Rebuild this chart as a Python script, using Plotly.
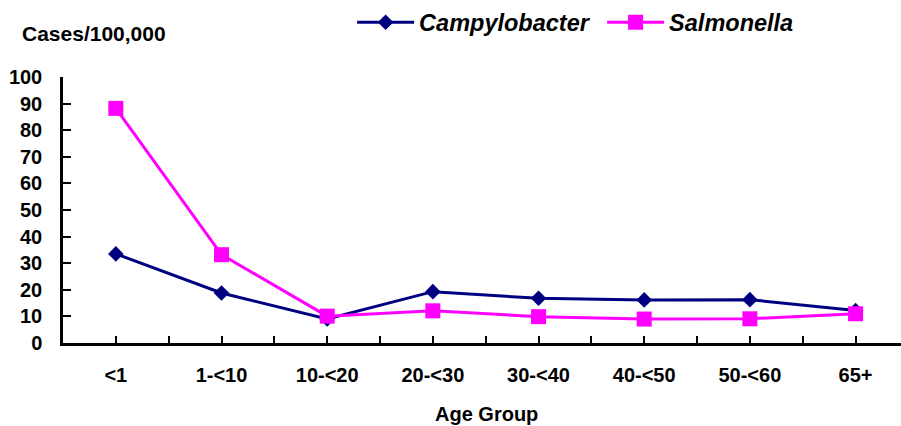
import plotly.graph_objects as go

categories = ["<1", "1-<10", "10-<20", "20-<30", "30-<40", "40-<50", "50-<60", "65+"]
campylobacter = [33.5, 18.8, 9.0, 19.3, 16.8, 16.2, 16.3, 12.2]
salmonella = [88.2, 33.2, 10.1, 12.1, 9.9, 9.0, 9.1, 11.0]
yticks = list(range(0, 101, 10))

xpos = list(range(len(categories)))
FONT = "Liberation Sans, Arial, sans-serif"

fig = go.Figure()
fig.add_trace(go.Scatter(
    x=xpos, y=campylobacter, name="Campylobacter", mode="lines+markers",
    line=dict(color="#000080", width=3),
    marker=dict(symbol="diamond", size=12, color="#000080"),
))
fig.add_trace(go.Scatter(
    x=xpos, y=salmonella, name="Salmonella", mode="lines+markers",
    line=dict(color="#FF00FF", width=3),
    marker=dict(symbol="square", size=15, color="#FF00FF"),
))

fig.update_layout(
    width=901, height=426,
    margin=dict(l=63, r=0, t=74, b=83),
    paper_bgcolor="white", plot_bgcolor="white",
    font=dict(family=FONT, size=20, color="black", weight="bold"),
    showlegend=True,
    legend=dict(
        orientation="h", x=0.345, y=1.205, xanchor="left", yanchor="middle",
        font=dict(family=FONT, size=23.5, color="black", weight="bold", style="italic"),
        entrywidth=178, entrywidthmode="pixels", itemwidth=57,
        bgcolor="rgba(0,0,0,0)",
    ),
    xaxis=dict(
        range=[-0.5, 7.43], tickmode="array", tickvals=xpos, ticktext=categories,
        showgrid=False, zeroline=False, showline=True, linecolor="black", linewidth=2.5,
        ticks="inside", ticklen=7, tickwidth=2, tickcolor="black",
        ticklabelstandoff=12,
        minor=dict(ticks="inside", tick0=0.5, dtick=1, ticklen=7, tickwidth=2, tickcolor="black", showgrid=False),
        tickfont=dict(size=20),
    ),
    yaxis=dict(
        range=[0, 100], tickmode="array", tickvals=yticks,
        showgrid=False, zeroline=False, showline=True, linecolor="black", linewidth=2.5,
        ticks="inside", ticklen=8, tickwidth=2, tickcolor="black",
        ticklabelstandoff=14, tickfont=dict(size=20),
    ),
    annotations=[
        dict(text="Cases/100,000", xref="paper", yref="paper",
             x=(20 - 63) / 838, y=1 + (74 - 30) / 269, xanchor="left", yanchor="middle",
             showarrow=False, font=dict(family=FONT, size=21, weight="bold")),
        dict(text="Age Group", xref="paper", yref="paper",
             x=(487 - 63) / 838, y=-(415 - 343) / 269, xanchor="center", yanchor="middle",
             showarrow=False, font=dict(family=FONT, size=20, weight="bold")),
    ],
)

fig.write_html("out.html")
